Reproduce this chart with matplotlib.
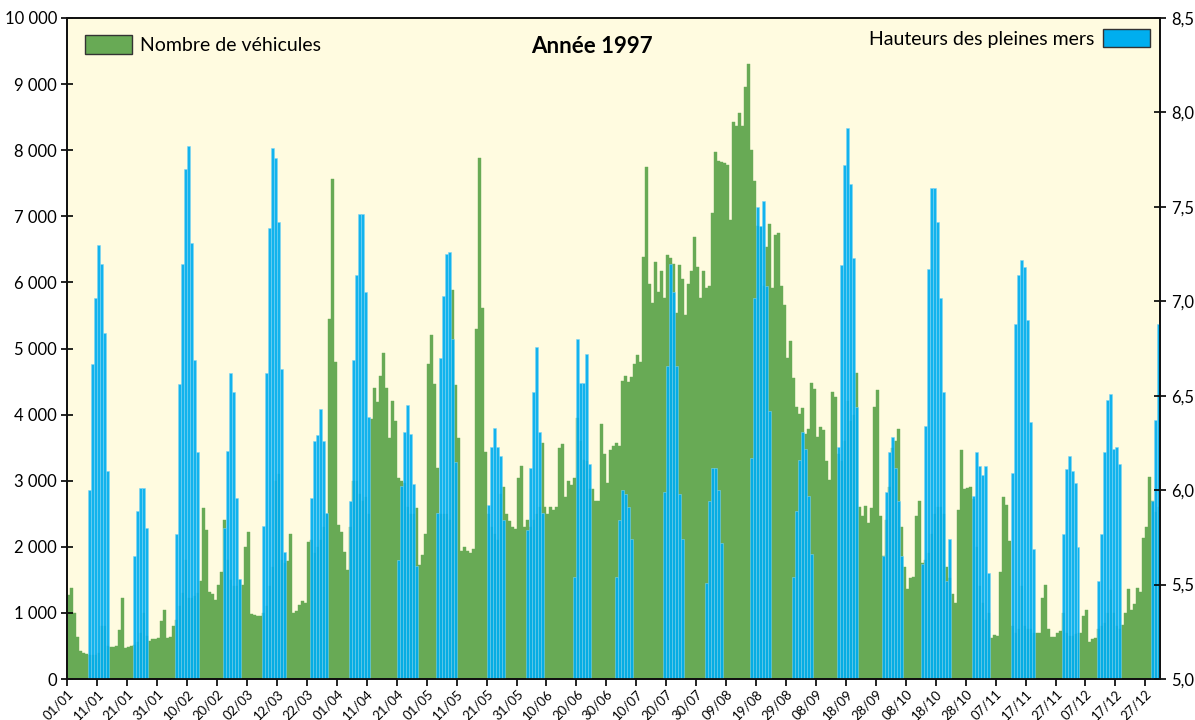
import numpy as np
import matplotlib
matplotlib.use('Agg')
import matplotlib.pyplot as plt
from matplotlib.patches import Patch

plt.rcParams['font.family'] = ['Lato', 'DejaVu Sans']

# daily number of vehicles, 1997
vehicles = [
    1270, 1380, 1000, 640, 420, 400, 375, 370, 360, 360,
    400, 800, 800, 500, 480, 490, 500, 740, 1230, 470,
    480, 500, 520, 560, 700, 1000, 650, 580, 600, 610,
    620, 880, 1050, 620, 640, 800, 900, 1100, 1300, 1800,
    1230, 1230, 1250, 1300, 1490, 2590, 2250, 1310, 1280, 1200,
    1420, 1620, 2400, 1800, 1500, 1400, 1400, 1500, 1430, 2000,
    2230, 980, 970, 960, 950, 1000, 1100, 1400, 1700, 3000,
    3100, 1800, 1750, 1780, 2200, 1000, 1035, 1120, 1180, 1150,
    2070, 2100, 1900, 2000, 2100, 2300, 2500, 5450, 7570, 4790,
    2330, 2230, 1920, 1650, 2300, 3000, 3000, 2800, 2700, 2750,
    2500, 3930, 4410, 4190, 4580, 4930, 4410, 3640, 4200, 3900,
    3040, 3000, 2960, 2600, 2500, 2500, 2590, 1730, 1880, 2200,
    4770, 5210, 4470, 3200, 2500, 2500, 2500, 2400, 5890, 4450,
    3640, 1940, 2000, 1940, 1900, 1960, 5290, 7880, 5620, 3430,
    2500, 2300, 2200, 2100, 2800, 2900, 2490, 2390, 2300, 2270,
    3040, 3220, 2300, 2400, 2300, 2400, 2500, 2600, 3570, 2600,
    2500, 2600, 2550, 2600, 3500, 3560, 2750, 3000, 2940, 3040,
    3950, 3600, 3320, 3300, 2880, 2880, 2690, 2690, 3860, 3400,
    2960, 3460, 3530, 3570, 3530, 4510, 4590, 4500, 4570, 4760,
    4900, 4800, 6390, 7750, 5970, 5690, 6310, 5860, 6180, 5760,
    6420, 6370, 6280, 5530, 6260, 6050, 5500, 5970, 6180, 6680,
    6240, 5760, 6180, 5920, 5950, 7050, 7980, 7830, 7820, 7800,
    7780, 6940, 8420, 8370, 8560, 8370, 8960, 9300, 8000, 7540,
    6860, 6840, 5950, 6540, 6890, 5920, 6710, 6750, 5950, 5660,
    4850, 5110, 4550, 4110, 4010, 4100, 3700, 3790, 4480, 4380,
    3660, 3820, 3770, 3300, 3010, 4340, 4270, 3400, 3300, 3600,
    4200, 3900, 4000, 4630, 2610, 2460, 2620, 2360, 2580, 4120,
    4370, 2460, 1860, 2400, 2900, 3500, 3600, 3790, 2300, 1700,
    1360, 1530, 1550, 2470, 2700, 1750, 1800, 1900, 2200, 2500,
    2600, 2600, 2500, 1700, 1530, 1290, 1150, 2560, 3460, 2880,
    2890, 2900, 2720, 2000, 1400, 1150, 900, 1000, 620, 660,
    650, 1620, 2750, 2630, 2090, 800, 700, 750, 1400, 800,
    750, 750, 700, 700, 690, 1230, 1420, 760, 640, 640,
    700, 720, 1000, 700, 650, 650, 680, 700, 700, 950,
    1040, 560, 600, 620, 750, 800, 850, 1000, 1350, 1000,
    800, 750, 810, 1000, 1360, 1040, 1130, 1370, 1310, 2140,
    2300, 3060, 2700, 2520, 2600,
]

# high tide heights (m) above 5 m: first day of each spring tide run, then the run
tide_starts = [7, 22, 36, 52, 65, 81, 94, 110, 123, 140, 153, 169, 183,
               199, 213, 228, 242, 257, 272, 285, 302, 315, 332, 344, 362]
tide_runs = [
    [6.00, 6.67, 7.02, 7.30, 7.20, 6.83, 6.10],
    [5.65, 5.89, 6.01, 6.01, 5.80],
    [5.77, 6.56, 7.20, 7.70, 7.82, 7.31, 6.69, 6.20],
    [5.80, 6.21, 6.62, 6.52, 5.96, 5.53],
    [5.81, 6.62, 7.39, 7.81, 7.76, 7.42, 6.64, 5.67],
    [5.96, 6.26, 6.29, 6.43, 6.26, 5.88],
    [5.94, 6.69, 7.14, 7.46, 7.46, 7.05, 6.39],
    [5.63, 6.02, 6.31, 6.45, 6.30, 6.03, 5.60],
    [5.88, 6.70, 7.03, 7.25, 7.26, 6.80, 6.15],
    [5.92, 6.23, 6.33, 6.23, 6.18, 5.84],
    [5.79, 6.12, 6.52, 6.76, 6.31, 5.88],
    [5.54, 6.80, 6.57, 6.57, 6.72, 6.14],
    [5.54, 5.84, 6.00, 5.98, 5.91, 5.74],
    [5.99, 6.66, 7.20, 7.05, 6.66, 5.98, 5.74],
    [5.51, 5.94, 6.12, 6.12, 6.00, 5.72],
    [6.17, 7.02, 7.50, 7.40, 7.53, 7.08, 6.42],
    [5.54, 5.89, 6.16, 6.31, 6.22, 5.97, 5.66],
    [6.23, 7.19, 7.72, 7.92, 7.62, 7.23, 6.44],
    [5.65, 5.99, 6.20, 6.28, 6.12, 5.94, 5.65],
    [5.61, 6.34, 7.17, 7.60, 7.60, 7.42, 7.02, 6.52, 5.52, 5.74],
    [5.97, 6.20, 6.13, 6.08, 6.13, 5.56],
    [6.09, 6.88, 7.14, 7.22, 7.18, 6.90, 6.36, 5.69],
    [5.77, 6.11, 6.18, 6.10, 6.04, 5.70],
    [5.52, 5.77, 6.20, 6.48, 6.51, 6.22, 6.23, 6.14],
    [5.94, 6.37, 6.88],
]

tick_labels = ['01/01', '11/01', '21/01', '31/01', '10/02', '20/02', '02/03',
               '12/03', '22/03', '01/04', '11/04', '21/04', '01/05', '11/05',
               '21/05', '31/05', '10/06', '20/06', '30/06', '10/07', '20/07',
               '30/07', '09/08', '19/08', '29/08', '08/09', '18/09', '28/09',
               '08/10', '18/10', '28/10', '07/11', '17/11', '27/11', '07/12',
               '17/12', '27/12']
left_labels = ['0', '1 000', '2 000', '3 000', '4 000', '5 000', '6 000',
               '7 000', '8 000', '9 000', '10 000']
right_labels = ['5,0', '5,5', '6,0', '6,5', '7,0', '7,5', '8,0', '8,5']

days = np.arange(len(vehicles))
tides = np.full(len(vehicles), np.nan)
for s, run in zip(tide_starts, tide_runs):
    tides[s:s + len(run)] = run

green = '#68aa55'
blue = '#00aeef'

fig = plt.figure(figsize=(11.95, 7.2), dpi=100)
ax = fig.add_axes([0.0564, 0.0569, 0.9146, 0.9181])
ax.set_facecolor('#fffbe0')
ax.bar(days, vehicles, width=1.0, align='edge', color=green,
       edgecolor=green, linewidth=0.3)
ax.set_xlim(0, 365)
ax.set_ylim(0, 10000)
ax.set_yticks(range(0, 10001, 1000))
ax.set_yticklabels(left_labels, fontsize=12)
ax.set_xticks(range(0, 365, 10))
ax.set_xticklabels(tick_labels, rotation=45, ha='right',
                   rotation_mode='anchor', fontsize=9.5)
ax.tick_params(axis='y', direction='inout', length=8, width=1.2)
ax.tick_params(axis='x', direction='out', length=5, width=1.2, pad=1)

ax2 = ax.twinx()
ax2.bar(days + 0.5, tides - 5.0, bottom=5.0, width=1.0, color=blue,
        alpha=0.93, edgecolor='#7fd4f5', linewidth=0.4)
ax2.set_ylim(5.0, 8.5)
ax2.set_yticks(np.arange(5.0, 8.51, 0.5))
ax2.set_yticklabels(right_labels, fontsize=12)
ax2.tick_params(axis='y', direction='inout', length=8, width=1.2)

for a in (ax, ax2):
    for sp in a.spines.values():
        sp.set_linewidth(1.3)
        sp.set_color('#111111')

leg1 = ax2.legend(handles=[Patch(facecolor=green, edgecolor='#333333', lw=1)],
                  labels=['Nombre de véhicules'], loc='upper left',
                  frameon=False, fontsize=14, handlelength=2.4,
                  handleheight=1.1, handletextpad=0.45)
ax2.add_artist(leg1)
ax2.legend(handles=[Patch(facecolor=blue, edgecolor='#333333', lw=1)],
           labels=['Hauteurs des pleines mers'], loc='upper right',
           frameon=False, fontsize=14, handlelength=2.4, handleheight=1.1,
           handletextpad=0.45, markerfirst=False, borderaxespad=0.15)
ax2.text(0.48, 0.957, 'Année 1997', transform=ax2.transAxes, ha='center',
         va='center', fontsize=16, fontweight='bold')

fig.savefig('out.png', dpi=100)
